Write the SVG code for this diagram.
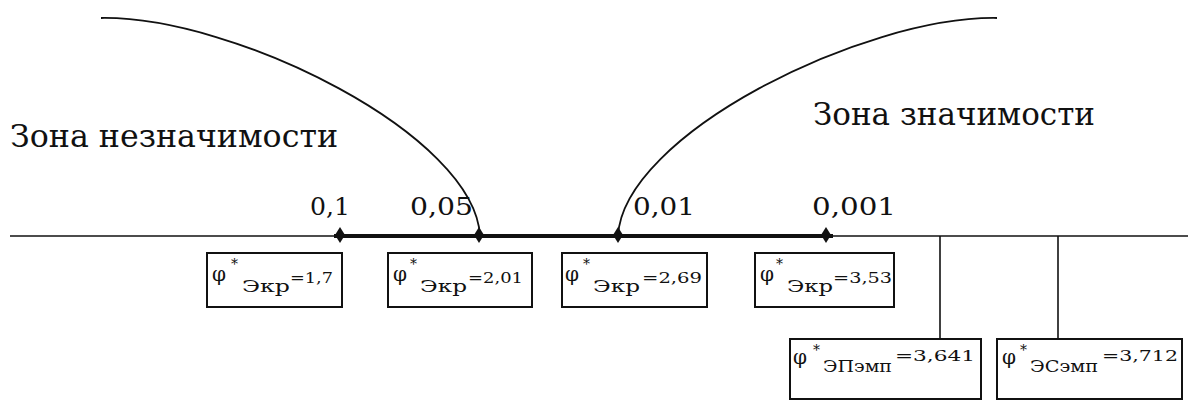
<svg xmlns="http://www.w3.org/2000/svg" width="1188" height="400" viewBox="0 0 1188 400">
<style>
.t{font-family:"DejaVu Serif","Liberation Serif",serif;fill:#111}
.zone{font-size:31px}
.lbl{font-size:25px}
.phi{font-size:20px}
.star{font-size:14px}
.sub{font-size:16.5px}
.val{font-size:14.5px}
.box{fill:#fff;stroke:#111;stroke-width:2}
.thin{stroke:#111;stroke-width:1.6;fill:none}
.thick{stroke:#111;stroke-width:4;fill:none}
.curve{stroke:#111;stroke-width:1.8;fill:none}
.mk{fill:#111}
</style>
<defs>
<path id="dm" d="M0,-8 L5,0 L0,8 L-5,0 Z"/>
</defs>
<rect width="1188" height="400" fill="#fff"/>
<g id="connectors">
<line class="thin" x1="10" y1="236" x2="1188" y2="236"/>
<line class="thick" x1="334" y1="236" x2="833" y2="236"/>
<path class="curve" d="M101,18 C235,16 475,135 480,236"/>
<path class="curve" d="M618,236 C623,135 863,16 997,18"/>
<line class="thin" x1="940" y1="236" x2="940" y2="339"/>
<line class="thin" x1="1058" y1="236" x2="1058" y2="339"/>
<use href="#dm" class="mk" x="340" y="235"/>
<use href="#dm" class="mk" x="479" y="235"/>
<use href="#dm" class="mk" x="618" y="235"/>
<use href="#dm" class="mk" x="826" y="235"/>
</g>
<g id="zone-left"><text class="t zone" x="10" y="147" textLength="328" lengthAdjust="spacingAndGlyphs">Зона незначимости</text></g>
<g id="zone-right"><text class="t zone" x="813" y="125" textLength="282" lengthAdjust="spacingAndGlyphs">Зона значимости</text></g>
<g id="labels">
<text class="t lbl" x="310" y="215" textLength="40" lengthAdjust="spacingAndGlyphs">0,1</text>
<text class="t lbl" x="410" y="215" textLength="63" lengthAdjust="spacingAndGlyphs">0,05</text>
<text class="t lbl" x="633" y="215" textLength="62" lengthAdjust="spacingAndGlyphs">0,01</text>
<text class="t lbl" x="812" y="215" textLength="84" lengthAdjust="spacingAndGlyphs">0,001</text>
</g>
<g id="box1">
<rect class="box" x="207" y="253" width="135" height="54"/>
<text class="t phi" x="212" y="281">φ</text><text class="t star" x="231" y="269">*</text>
<text class="t sub" x="242" y="292" textLength="48" lengthAdjust="spacingAndGlyphs">Экр</text>
<text class="t val" x="290" y="283" textLength="43" lengthAdjust="spacingAndGlyphs">=1,7</text>
</g>
<g id="box2">
<rect class="box" x="388" y="253" width="144" height="54"/>
<text class="t phi" x="393" y="281">φ</text><text class="t star" x="410" y="269">*</text>
<text class="t sub" x="420" y="292" textLength="47" lengthAdjust="spacingAndGlyphs">Экр</text>
<text class="t val" x="468" y="283" textLength="55" lengthAdjust="spacingAndGlyphs">=2,01</text>
</g>
<g id="box3">
<rect class="box" x="562" y="253" width="145" height="54"/>
<text class="t phi" x="565" y="281">φ</text><text class="t star" x="583" y="269">*</text>
<text class="t sub" x="593" y="292" textLength="47" lengthAdjust="spacingAndGlyphs">Экр</text>
<text class="t val" x="642" y="283" textLength="60" lengthAdjust="spacingAndGlyphs">=2,69</text>
</g>
<g id="box4">
<rect class="box" x="755" y="253" width="139" height="54"/>
<text class="t phi" x="760" y="281">φ</text><text class="t star" x="776" y="269">*</text>
<text class="t sub" x="787" y="292" textLength="46" lengthAdjust="spacingAndGlyphs">Экр</text>
<text class="t val" x="833" y="283" textLength="59" lengthAdjust="spacingAndGlyphs">=3,53</text>
</g>
<g id="box5">
<rect class="box" x="790" y="339" width="191" height="60"/>
<text class="t phi" x="793" y="364">φ</text><text class="t star" x="813" y="355">*</text>
<text class="t sub" x="823" y="372" textLength="69" lengthAdjust="spacingAndGlyphs">ЭПэмп</text>
<text class="t val" x="895" y="361" textLength="80" lengthAdjust="spacingAndGlyphs">=3,641</text>
</g>
<g id="box6">
<rect class="box" x="997" y="339" width="185" height="60"/>
<text class="t phi" x="1002" y="364">φ</text><text class="t star" x="1020" y="355">*</text>
<text class="t sub" x="1030" y="372" textLength="68" lengthAdjust="spacingAndGlyphs">ЭСэмп</text>
<text class="t val" x="1102" y="361" textLength="76" lengthAdjust="spacingAndGlyphs">=3,712</text>
</g>
</svg>
